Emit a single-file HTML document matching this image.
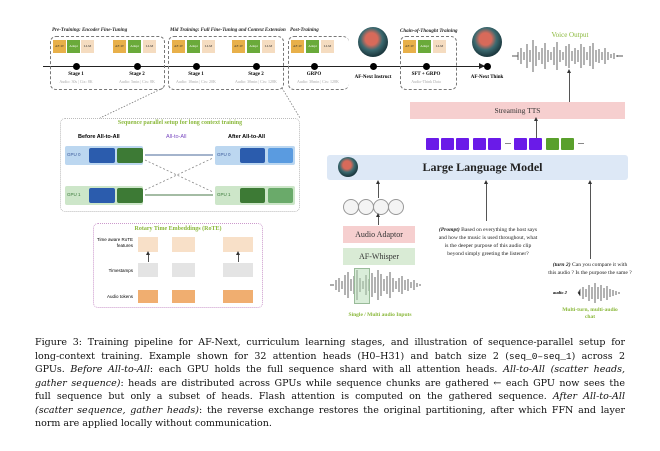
<!DOCTYPE html>
<html><head><meta charset="utf-8"><style>
body{margin:0;width:660px;height:451px;background:#fff;position:relative;overflow:hidden;font-family:"Liberation Serif",serif}
.a{position:absolute}
.db{position:absolute;border:1.3px dashed #777;border-radius:6px}
.lbl{position:absolute;font-size:5px;font-style:italic;font-weight:bold;color:#222;white-space:nowrap}
.blk{position:absolute;width:13px;height:13px;font-size:3.5px;color:#333;text-align:center;line-height:13px}
.o{background:#e8b04a}.g{background:#6aaa3a;color:#fff}.p{background:#f5dcc0}
.dot{position:absolute;width:7px;height:7px;border-radius:50%;background:#000;margin:-3.5px 0 0 -3.5px}
.st{position:absolute;font-size:5px;font-weight:bold;text-align:center;width:50px;margin-left:-25px}
.sub{position:absolute;font-size:4px;color:#aaa;text-align:center;width:60px;margin-left:-30px}
.av{position:absolute;border-radius:50%;background:radial-gradient(circle at 45% 40%,#d86a5a 0 25%,#3c6a70 45%,#1d3a40 70%)}
.cap{position:absolute;left:35px;width:590px;line-height:13.5px;top:336px;color:#111;font-family:"DejaVu Serif","Liberation Serif",serif;font-size:9.5px;overflow:hidden}
.cap div{text-align:justify;text-align-last:justify;white-space:nowrap}
.cap div.l{text-align-last:left}
.tok{position:absolute;top:138px;height:12px;width:13px;background:#6a1be8;border-radius:1px}
.circ{position:absolute;top:199px;width:14px;height:14px;border-radius:50%;border:1px solid #999;background:#f4f4f4}
.arr{position:absolute;width:1px;background:#555}
.arr:before{content:"";position:absolute;left:-2px;top:-3px;border-left:2.5px solid transparent;border-right:2.5px solid transparent;border-bottom:4px solid #333}
</style></head><body>
<div class="a" style="left:43px;top:65.5px;width:442px;height:1.3px;background:#222"></div>
<div class="a" style="left:479px;top:63px;border-left:6px solid #222;border-top:3px solid transparent;border-bottom:3px solid transparent"></div>
<div class="db" style="left:50px;top:36px;width:113px;height:52px"></div>
<div class="db" style="left:168px;top:36px;width:114px;height:52px"></div>
<div class="db" style="left:288px;top:36px;width:60px;height:52px;border-right:none"></div>
<div class="db" style="left:400px;top:36px;width:55px;height:52px"></div>
<div class="lbl" style="left:52px;top:28px">Pre-Training: Encoder Fine-Tuning</div>
<div class="lbl" style="left:170px;top:28px">Mid Training: Full Fine-Tuning and Context Extension</div>
<div class="lbl" style="left:290px;top:28px">Post-Training</div>
<div class="lbl" style="left:400px;top:29px">Chain-of-Thought Training</div>
<div class="blk o" style="left:53px;top:40px">AF-W</div><div class="blk g" style="left:67px;top:40px">Adapt</div><div class="blk p" style="left:81px;top:40px">LLM</div>
<div class="blk o" style="left:113px;top:40px">AF-W</div><div class="blk g" style="left:128px;top:40px">Adapt</div><div class="blk p" style="left:143px;top:40px">LLM</div>
<div class="blk o" style="left:172px;top:40px">AF-W</div><div class="blk g" style="left:187px;top:40px">Adapt</div><div class="blk p" style="left:202px;top:40px">LLM</div>
<div class="blk o" style="left:232px;top:40px">AF-W</div><div class="blk g" style="left:247px;top:40px">Adapt</div><div class="blk p" style="left:262px;top:40px">LLM</div>
<div class="blk o" style="left:291px;top:40px">AF-W</div><div class="blk g" style="left:306px;top:40px">Adapt</div><div class="blk p" style="left:321px;top:40px">LLM</div>
<div class="blk o" style="left:403px;top:40px">AF-W</div><div class="blk g" style="left:418px;top:40px">Adapt</div><div class="blk p" style="left:433px;top:40px">LLM</div>
<div class="dot" style="left:76px;top:66px"></div><div class="dot" style="left:137px;top:66px"></div>
<div class="dot" style="left:196px;top:66px"></div><div class="dot" style="left:256px;top:66px"></div>
<div class="dot" style="left:314px;top:66px"></div><div class="dot" style="left:373px;top:66px"></div>
<div class="dot" style="left:426px;top:66px"></div><div class="dot" style="left:487px;top:66px"></div>
<div class="st" style="left:76px;top:72px">Stage 1</div><div class="st" style="left:137px;top:72px">Stage 2</div>
<div class="st" style="left:196px;top:72px">Stage 1</div><div class="st" style="left:256px;top:72px">Stage 2</div>
<div class="st" style="left:314px;top:72px">GRPO</div><div class="st" style="left:373px;top:75px">AF-Next Instruct</div>
<div class="st" style="left:426px;top:72px">SFT + GRPO</div><div class="st" style="left:487px;top:75px">AF-Next Think</div>
<div class="sub" style="left:76px;top:79px">Audio: 30s | Ctx: 8K</div><div class="sub" style="left:137px;top:79px">Audio: 5min | Ctx: 8K</div>
<div class="sub" style="left:196px;top:79px">Audio: 10min | Ctx: 20K</div><div class="sub" style="left:256px;top:79px">Audio: 30min | Ctx: 128K</div>
<div class="sub" style="left:318px;top:79px">Audio: 30min | Ctx: 128K</div><div class="sub" style="left:426px;top:79px">Audio-Think Data</div>
<div class="av" style="left:358px;top:27px;width:30px;height:30px"></div>
<div class="av" style="left:472px;top:27px;width:30px;height:30px"></div>
<svg class="a" style="left:0;top:0" width="660" height="451">
<line x1="163" y1="88" x2="100" y2="118" stroke="#777" stroke-dasharray="1.5,1.5" stroke-width="0.8"/>
<line x1="282" y1="88" x2="300" y2="118" stroke="#777" stroke-dasharray="1.5,1.5" stroke-width="0.8"/>
<g stroke="#555" stroke-width="0.9">
<path d="M512 56 L518 56 M518 52 L518 60 M521 48 L521 64 M524 52 L524 60 M527 44 L527 68 M530 50 L530 62 M533 40 L533 72 M536 46 L536 66 M539 52 L539 60 M542 48 L542 64 M545 43 L545 69 M548 50 L548 62 M551 52 L551 60 M554 47 L554 65 M557 42 L557 70 M560 50 L560 62 M563 52 L563 60 M566 46 L566 66 M569 44 L569 68 M572 51 L572 61 M575 48 L575 64 M578 50 L578 62 M581 44 L581 68 M584 47 L584 65 M587 52 L587 60 M590 46 L590 66 M593 43 L593 69 M596 50 L596 62 M599 49 L599 63 M602 52 L602 60 M605 48 L605 64 M608 52 L608 60 M611 54 L611 58 M614 53 L614 59 M617 55 L617 57 M617 56 L623 56"/>
<path d="M330 285 L334 285 M336 280 L336 290 M339 278 L339 292 M342 281 L342 289 M345 275 L345 295 M348 272 L348 298 M351 279 L351 291 M354 276 L354 294 M357 270 L357 300 M360 278 L360 292 M363 281 L363 289 M366 275 L366 295 M369 279 L369 291 M372 273 L372 297 M375 277 L375 293 M378 270 L378 300 M381 274 L381 296 M384 279 L384 291 M387 276 L387 294 M390 272 L390 298 M393 278 L393 292 M396 281 L396 289 M399 278 L399 292 M402 276 L402 294 M405 280 L405 290 M408 279 L408 291 M411 282 L411 288 M414 280 L414 290 M417 283 L417 287 M420 284 L420 286"/>
<path d="M578 293 L580 290 L580 296 M583 287 L583 299 M586 289 L586 297 M589 285 L589 301 M592 287 L592 299 M595 283 L595 303 M598 287 L598 299 M601 285 L601 301 M604 288 L604 298 M607 286 L607 300 M610 289 L610 297 M613 290 L613 296 M616 291 L616 295 M619 292 L619 294"/>
</g>
<line x1="145" y1="155" x2="213" y2="155" stroke="#4a6a9a" stroke-width="1"/>
<line x1="145" y1="195" x2="213" y2="195" stroke="#4a7a4a" stroke-width="1"/>
<line x1="145" y1="160" x2="213" y2="192" stroke="#888" stroke-dasharray="2,2" stroke-width="0.8"/>
<line x1="145" y1="190" x2="213" y2="158" stroke="#888" stroke-dasharray="2,2" stroke-width="0.8"/>
</svg>
<div class="a" style="left:354px;top:268px;width:14px;height:34px;background:rgba(180,220,180,.5);border:0.5px solid #9b9"></div>
<div class="a" style="left:540px;top:31px;width:60px;text-align:center;font-size:7px;color:#8ab83a">Voice Output</div>
<div class="arr" style="left:569px;top:72px;height:30px"></div>
<div class="a" style="left:410px;top:102px;width:215px;height:17px;background:#f6cfcf;font-size:7.5px;text-align:center;line-height:17px;color:#333">Streaming TTS</div>
<div class="arr" style="left:536px;top:120px;height:18px"></div>
<div class="tok" style="left:426px"></div><div class="tok" style="left:441px"></div><div class="tok" style="left:456px"></div><div class="tok" style="left:473px"></div><div class="tok" style="left:488px"></div>
<div class="a" style="left:505px;top:143px;width:6px;height:1px;background:#888"></div>
<div class="tok" style="left:514px"></div><div class="tok" style="left:529px"></div>
<div class="tok" style="left:546px;background:#5aa02c"></div><div class="tok" style="left:561px;background:#5aa02c"></div>
<div class="a" style="left:578px;top:143px;width:6px;height:1px;background:#888"></div>
<div class="a" style="left:327px;top:155px;width:301px;height:25px;background:#dde8f6;border-radius:3px;font-size:12px;font-weight:bold;text-align:center;line-height:25px;color:#222;box-sizing:border-box;padding-left:10px">Large Language Model</div>
<div class="av" style="left:338px;top:157px;width:20px;height:20px"></div>
<div class="arr" style="left:378px;top:183px;height:15px"></div>
<div class="arr" style="left:486px;top:183px;height:38px"></div>
<div class="arr" style="left:590px;top:183px;height:76px"></div>
<div class="circ" style="left:343px"></div><div class="circ" style="left:358px"></div><div class="circ" style="left:373px"></div><div class="circ" style="left:388px"></div>
<div class="arr" style="left:378px;top:216px;height:9px"></div>
<div class="a" style="left:343px;top:226px;width:72px;height:17px;background:#f6cfcf;font-size:8px;text-align:center;line-height:17px;color:#333">Audio Adaptor</div>
<div class="a" style="left:343px;top:248px;width:72px;height:17px;background:#d9ebd5;font-size:8px;text-align:center;line-height:17px;color:#333">AF-Whisper</div>
<div class="a" style="left:330px;top:312px;width:100px;text-align:center;font-size:5.5px;color:#8ab83a;font-weight:bold">Single / Multi audio Inputs</div>
<div class="a" style="left:438px;top:226px;width:100px;text-align:center;font-size:5.6px;line-height:8px;color:#222"><b><i>(Prompt)</i></b> Based on everything the host says and how the music is used throughout, what is the deeper purpose of this audio clip beyond simply greeting the listener?</div>
<div class="a" style="left:548px;top:261px;width:84px;text-align:center;font-size:5.6px;line-height:8px;color:#222"><b><i>(turn 2)</i></b> Can you compare it with this audio ? Is the purpose the same ?</div>
<div class="a" style="left:553px;top:290px;font-size:4.5px;font-weight:bold;font-style:italic">audio 2</div>
<div class="a" style="left:560px;top:307px;width:60px;text-align:center;font-size:5.5px;line-height:7px;color:#8ab83a;font-weight:bold">Multi-turn, multi-audio chat</div>
<div class="a" style="left:60px;top:118px;width:240px;height:94px;border:1px dotted #bbb;border-radius:5px;box-sizing:border-box"></div>
<div class="a" style="left:60px;top:120px;width:240px;text-align:center;font-size:6px;color:#8ab83a;font-weight:bold">Sequence parallel setup for long context training</div>
<div class="a" style="left:78px;top:134px;font-size:5.5px;font-weight:bold;font-family:'Liberation Sans',sans-serif">Before All-to-All</div>
<div class="a" style="left:166px;top:134px;font-size:5.5px;color:#7a4ac0;font-family:'Liberation Sans',sans-serif">All-to-All</div>
<div class="a" style="left:228px;top:134px;font-size:5.5px;font-weight:bold;font-family:'Liberation Sans',sans-serif">After All-to-All</div>
<div class="a" style="left:65px;top:146px;width:78px;height:19px;background:#bcd7f0;border-radius:2px"></div>
<div class="a" style="left:65px;top:186px;width:78px;height:19px;background:#cde6c9;border-radius:2px"></div>
<div class="a" style="left:215px;top:146px;width:80px;height:19px;background:#bcd7f0;border-radius:2px"></div>
<div class="a" style="left:215px;top:186px;width:80px;height:19px;background:#cde6c9;border-radius:2px"></div>
<div class="a" style="left:67px;top:152px;font-size:4.5px;color:#3a5a9a;font-family:'Liberation Sans',sans-serif">GPU 0</div>
<div class="a" style="left:67px;top:192px;font-size:4.5px;color:#3a7a3a;font-family:'Liberation Sans',sans-serif">GPU 1</div>
<div class="a" style="left:217px;top:152px;font-size:4.5px;color:#3a5a9a;font-family:'Liberation Sans',sans-serif">GPU 0</div>
<div class="a" style="left:217px;top:192px;font-size:4.5px;color:#3a7a3a;font-family:'Liberation Sans',sans-serif">GPU 1</div>
<div class="a" style="left:89px;top:148px;width:26px;height:15px;background:#2b5cad;border-radius:2px"></div>
<div class="a" style="left:117px;top:148px;width:26px;height:15px;background:#3d7a35;border-radius:2px"></div>
<div class="a" style="left:89px;top:188px;width:26px;height:15px;background:#2b5cad;border-radius:2px"></div>
<div class="a" style="left:117px;top:188px;width:26px;height:15px;background:#3d7a35;border-radius:2px"></div>
<div class="a" style="left:240px;top:148px;width:25px;height:15px;background:#2b5cad;border-radius:2px"></div>
<div class="a" style="left:268px;top:148px;width:25px;height:15px;background:#5a9be0;border-radius:2px"></div>
<div class="a" style="left:240px;top:188px;width:25px;height:15px;background:#3d7a35;border-radius:2px"></div>
<div class="a" style="left:268px;top:188px;width:25px;height:15px;background:#6aaa6a;border-radius:2px"></div>
<div class="a" style="left:93px;top:223px;width:170px;height:85px;border:1px dotted #c9c;border-radius:5px;box-sizing:border-box"></div>
<div class="a" style="left:93px;top:226px;width:170px;text-align:center;font-size:6px;color:#8ab83a;font-weight:bold">Rotary Time Embeddings (RoTE)</div>
<div class="a" style="left:95px;top:237px;width:38px;text-align:right;font-size:4.5px;line-height:6px;font-family:'Liberation Sans',sans-serif">Time aware RoTE features</div>
<div class="a" style="left:95px;top:268px;width:38px;text-align:right;font-size:4.5px;font-family:'Liberation Sans',sans-serif">Timestamps</div>
<div class="a" style="left:95px;top:294px;width:38px;text-align:right;font-size:4.5px;font-family:'Liberation Sans',sans-serif">Audio tokens</div>
<div class="a" style="left:138px;top:237px;width:20px;height:15px;background:#f8e0c8"></div>
<div class="a" style="left:172px;top:237px;width:23px;height:15px;background:#f8e0c8"></div>
<div class="a" style="left:223px;top:237px;width:30px;height:15px;background:#f8e0c8"></div>
<div class="a" style="left:138px;top:263px;width:20px;height:14px;background:#e4e4e4"></div>
<div class="a" style="left:172px;top:263px;width:23px;height:14px;background:#e4e4e4"></div>
<div class="a" style="left:223px;top:263px;width:30px;height:14px;background:#e4e4e4"></div>
<div class="a" style="left:138px;top:290px;width:20px;height:13px;background:#f0ae70"></div>
<div class="a" style="left:172px;top:290px;width:23px;height:13px;background:#f0ae70"></div>
<div class="a" style="left:223px;top:290px;width:30px;height:13px;background:#f0ae70"></div>
<div class="arr" style="left:148px;top:254px;height:8px"></div>
<div class="arr" style="left:238px;top:254px;height:8px"></div>
<div class="cap">
<div>Figure 3: Training pipeline for AF-Next, curriculum learning stages, and illustration of sequence-parallel setup for</div>
<div>long-context training. Example shown for 32 attention heads (H0–H31) and batch size 2 (<span style="font-family:'Liberation Mono',monospace">seq_0–seq_1</span>) across 2</div>
<div>GPUs. <i>Before All-to-All</i>: each GPU holds the full sequence shard with all attention heads. <i>All-to-All (scatter heads,</i></div>
<div><i>gather sequence)</i>: heads are distributed across GPUs while sequence chunks are gathered ← each GPU now sees the</div>
<div>full sequence but only a subset of heads. Flash attention is computed on the gathered sequence. <i>After All-to-All</i></div>
<div><i>(scatter sequence, gather heads)</i>: the reverse exchange restores the original partitioning, after which FFN and layer</div>
<div class="l">norm are applied locally without communication.</div>
</div>
</body></html>
